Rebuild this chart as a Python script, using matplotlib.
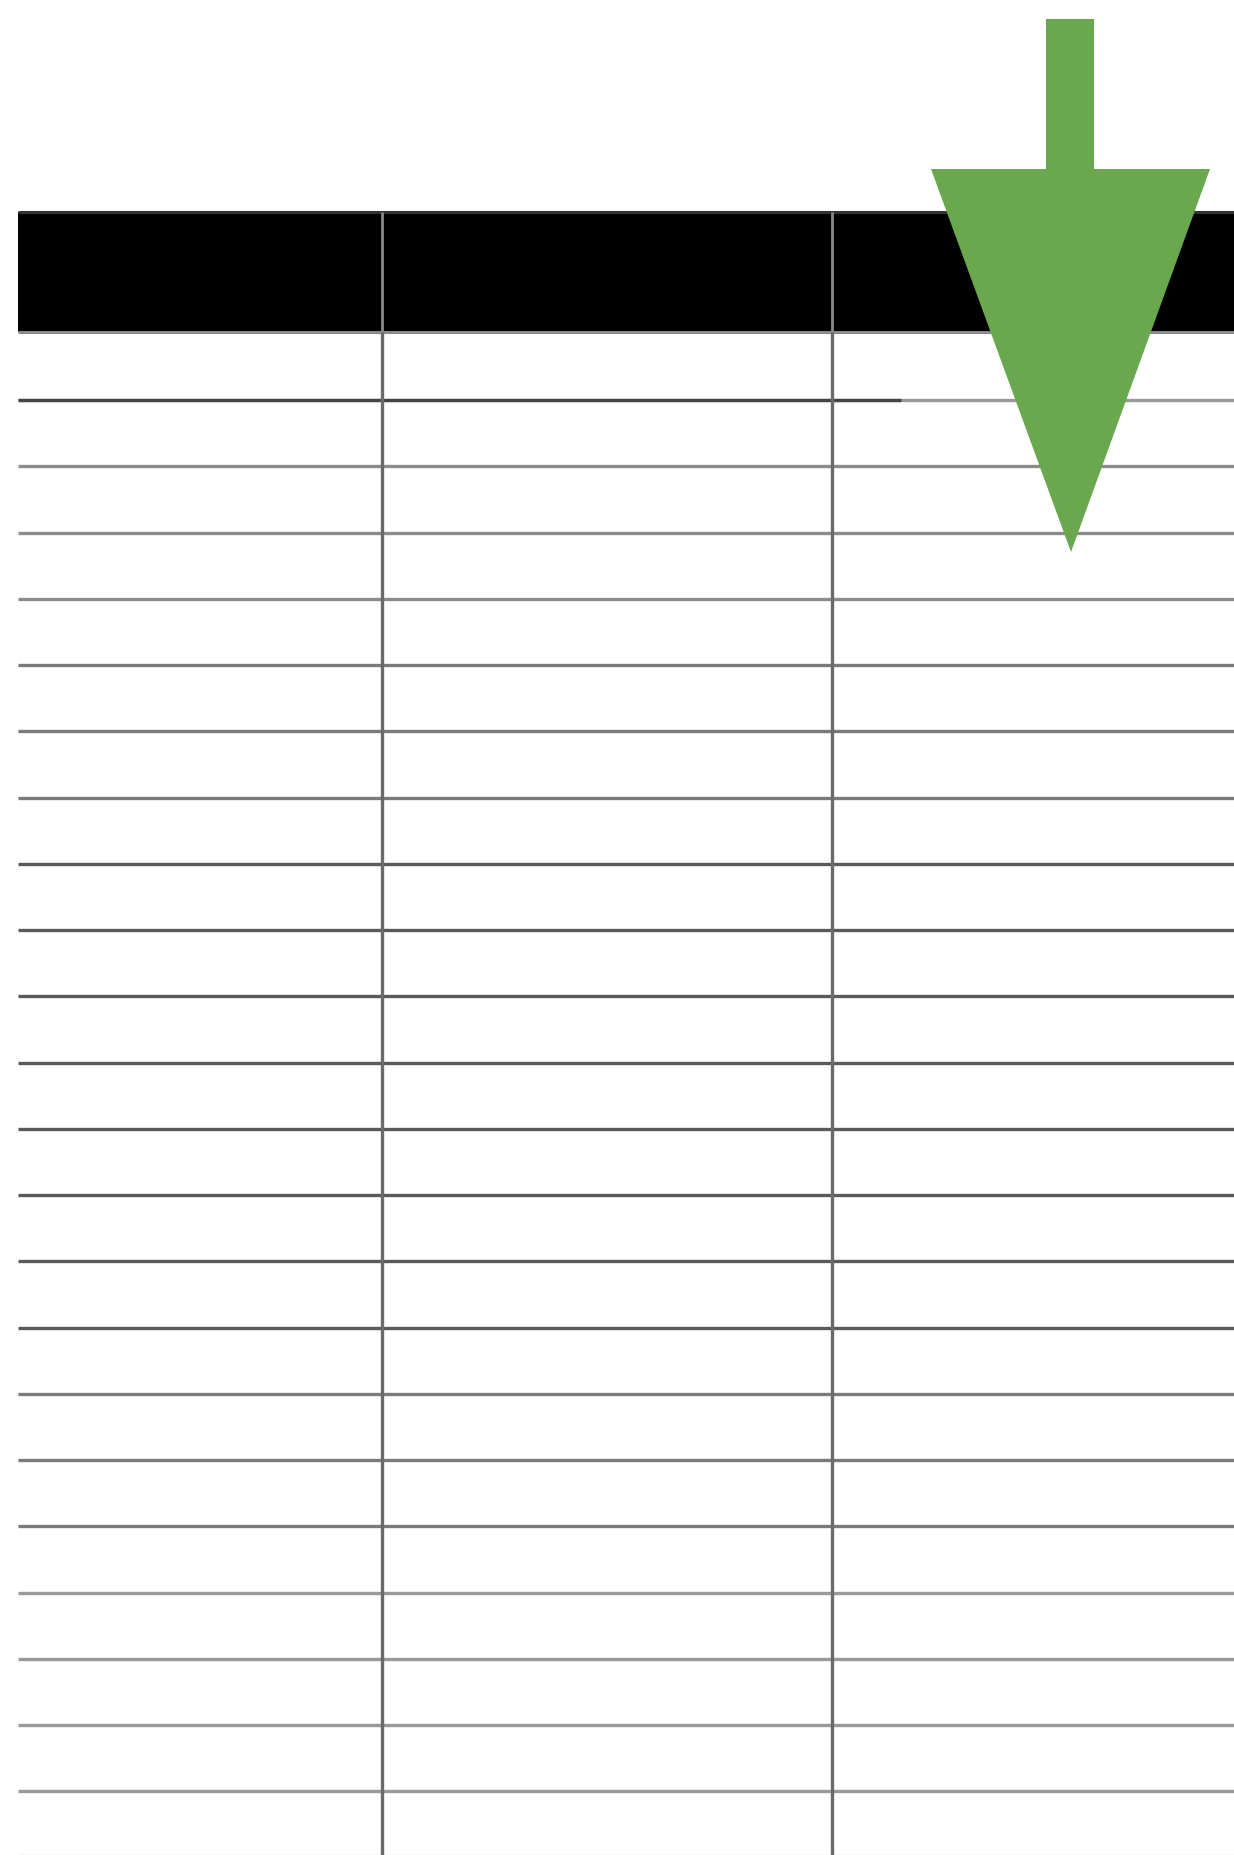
import matplotlib
matplotlib.use("Agg")
import matplotlib.pyplot as plt
from matplotlib.patches import Rectangle, Polygon

# ---- data / structure ----
column_labels = ["", "", ""]
column_edges = [18, 382, 832, 1234]          # table column boundaries (px)
header_span = [213, 333]                     # header band top/bottom
row_line_first = 401
row_height = 66.26
n_row_lines = 22
row_line_colors = (["#9a9a9a"] + ["#8c8c8c"] * 3 + ["#7a7a7a"] * 3 + ["#5a5a5a"] * 8
                   + ["#7a7a7a"] * 3 + ["#9a9a9a"] * 4)
highlight_segment = [18, 901]                # darker segment on first row line

arrow_color = "#6aa84f"
arrow_shaft = [1046, 1094, 20, 172]          # x0, x1, y0, y1
arrow_head = [(931, 170), (1210, 170), (1071, 553)]

W, H = 1234, 1856
fig = plt.figure(figsize=(W / 100, H / 100), dpi=100)
ax = fig.add_axes([0, 0, 1, 1])
ax.set_xlim(0, W)
ax.set_ylim(H, 0)
ax.axis("off")

x0, x1 = column_edges[0], column_edges[-1]

# header band
ax.add_patch(Rectangle((x0, header_span[0]), x1 - x0, header_span[1] - header_span[0],
                       facecolor="black", edgecolor="none", zorder=1))
ax.hlines(header_span[0], x0, x1, colors="#333333", lw=2.2, zorder=2)
ax.hlines(header_span[1], x0, x1, colors="#8a8a8a", lw=2.2, zorder=2)

# row lines
for k in range(n_row_lines):
    y = row_line_first + k * row_height
    ax.hlines(y, x0, x1, colors=row_line_colors[k], lw=2.4, zorder=2)
ax.hlines(row_line_first, highlight_segment[0], highlight_segment[1],
          colors="#454545", lw=2.4, zorder=3)
ax.hlines(H - 0.5, x0, x1, colors="#cccccc", lw=1.0, zorder=2)

# column separators
for xc in column_edges[1:-1]:
    ax.vlines(xc, header_span[0], header_span[1], colors="#8a8a8a", lw=2.0, zorder=3)
    ax.vlines(xc, header_span[1], H, colors="#6a6a6a", lw=2.4, zorder=3)

# green arrow
sx0, sx1, sy0, sy1 = arrow_shaft
ax.add_patch(Rectangle((sx0, sy0), sx1 - sx0, sy1 - sy0, facecolor=arrow_color,
                       edgecolor="none", zorder=5))
ax.add_patch(Polygon(arrow_head, closed=True, facecolor=arrow_color,
                     edgecolor="none", zorder=5))

fig.savefig("out.png", dpi=100, facecolor="white")
